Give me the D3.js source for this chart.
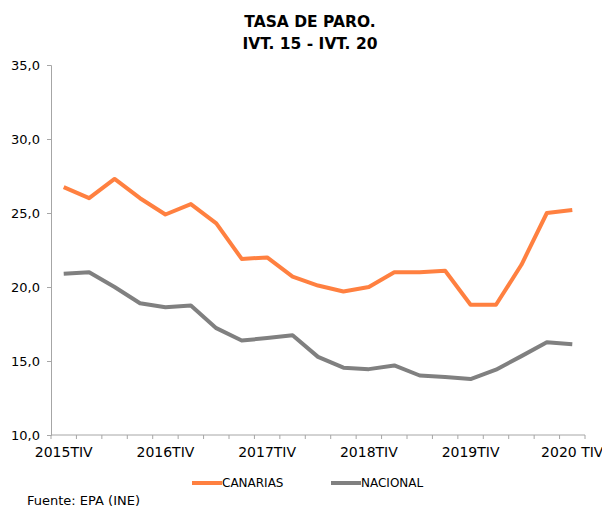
<!DOCTYPE html>
<html><head><meta charset="utf-8">
<script src="https://cdn.jsdelivr.net/npm/d3@7"></script>
<style>body{margin:0;background:#fff}svg{display:block}</style>
</head><body>
<script>
const categories = ["2015TIV","2016TI","2016TII","2016TIII","2016TIV","2017TI","2017TII","2017TIII","2017TIV","2018TI","2018TII","2018TIII","2018TIV","2019TI","2019TII","2019TIII","2019TIV","2020TI","2020TII","2020TIII","2020 TIV"];
const tickLabels = ["2015TIV","2016TIV","2017TIV","2018TIV","2019TIV","2020 TIV"];
const canarias = [26.75,26.0,27.3,26.0,24.9,25.6,24.3,21.9,22.0,20.7,20.1,19.7,20.0,21.0,21.0,21.1,18.8,18.8,21.5,25.0,25.2];
const nacional = [20.9,21.0,20.0,18.9,18.63,18.75,17.22,16.38,16.55,16.74,15.28,14.55,14.45,14.70,14.02,13.92,13.78,14.41,15.33,16.26,16.13];
const yTicks = [10,15,20,25,30,35];

const W=602,H=509;
const svg=d3.select("body").append("svg").attr("width",W).attr("height",H);
const font="DejaVu Sans, Verdana, sans-serif";
const x=d3.scaleBand().domain(categories).range([51,585]).padding(0);
const y=d3.scaleLinear().domain([10,35]).range([435,65]);

svg.append("text").attr("x",310).attr("y",27).attr("text-anchor","middle")
  .attr("font-family",font).attr("font-weight","bold").attr("font-size",15.5).text("TASA DE PARO.");
svg.append("text").attr("x",310).attr("y",49).attr("text-anchor","middle")
  .attr("font-family",font).attr("font-weight","bold").attr("font-size",15.5).text("IVT. 15 - IVT. 20");

// y axis
const ya=svg.append("g").attr("transform","translate(51,0)")
  .call(d3.axisLeft(y).tickValues(yTicks).tickSize(4).tickPadding(7).tickFormat(d=>d3.format(".1f")(d).replace(".",",")));
ya.select(".domain").attr("stroke","#a6a6a6");
ya.selectAll(".tick line").attr("stroke","#a6a6a6");
ya.selectAll("text").attr("font-family",font).attr("font-size",13).attr("fill","#000");

// x axis
const xa=svg.append("g").attr("transform","translate(0,435)");
xa.append("line").attr("x1",51).attr("x2",585).attr("y1",0).attr("y2",0).attr("stroke","#a6a6a6");
const bounds=categories.map(c=>x(c)).concat([x.range()[1]]);
xa.selectAll("line.t").data(bounds).enter().append("line")
  .attr("x1",d=>d).attr("x2",d=>d).attr("y1",0).attr("y2",4).attr("stroke","#a6a6a6");
xa.selectAll("text").data(tickLabels).enter().append("text")
  .attr("x",(d,i)=>x(categories[i*4])+x.bandwidth()/2).attr("y",22)
  .attr("text-anchor","middle").attr("font-family",font).attr("font-size",14).text(d=>d);

const line=d3.line().x((d,i)=>x(categories[i])+x.bandwidth()/2).y(d=>y(d));
svg.append("path").datum(nacional).attr("d",line).attr("fill","none").attr("stroke","#808080").attr("stroke-width",4).attr("stroke-linejoin","round");
svg.append("path").datum(canarias).attr("d",line).attr("fill","none").attr("stroke","#ff8040").attr("stroke-width",4).attr("stroke-linejoin","round");

// legend
const leg=[{n:"CANARIAS",c:"#ff8040",x:192},{n:"NACIONAL",c:"#808080",x:331}];
leg.forEach(l=>{
  svg.append("line").attr("x1",l.x).attr("x2",l.x+30).attr("y1",483).attr("y2",483).attr("stroke",l.c).attr("stroke-width",4);
  svg.append("text").attr("x",l.x+30).attr("y",487).attr("font-family",font).attr("font-size",12).text(l.n);
});
svg.append("text").attr("x",27).attr("y",505).attr("font-family",font).attr("font-size",13).text("Fuente: EPA (INE)");
</script>
</body></html>
